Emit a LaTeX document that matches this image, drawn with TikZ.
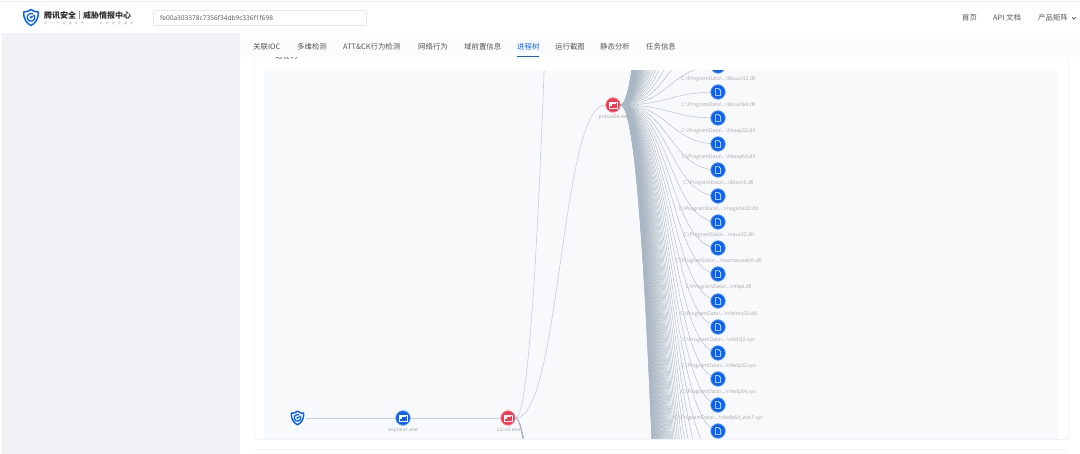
\documentclass[tikz,border=0pt]{standalone}
\usepackage{fontspec}
\setmainfont{Open Sans}
\newfontfamily\cjk{Noto Sans CJK SC}
\newfontfamily\cjksp[LetterSpace=105]{Noto Sans CJK SC}
\definecolor{blueN}{HTML}{0A62F5}
\definecolor{blueH}{HTML}{5A97F8}
\definecolor{redN}{HTML}{F7384F}
\definecolor{redH}{HTML}{F88A9A}
\definecolor{panelC}{HTML}{F8F9FB}
\definecolor{sideC}{HTML}{F0F2F5}
\definecolor{edgeC}{HTML}{C5CFDB}
\definecolor{fanC}{HTML}{A9B6C3}
\definecolor{labC}{HTML}{A8A8A8}
\definecolor{tabC}{HTML}{555555}
\definecolor{titleC}{HTML}{333333}
\definecolor{stripC}{HTML}{FBFCFD}
\definecolor{cardC}{HTML}{F2F3F6}
\definecolor{topC}{HTML}{EEEEEE}
\definecolor{boxC}{HTML}{E6E8EB}
\definecolor{darkC}{HTML}{9AA8B8}
\tikzset{
  lab/.style={font=\fontsize{5.15}{6}\selectfont,text=labC,inner sep=0pt},
  tab/.style={font=\cjk\fontsize{7.4}{9}\selectfont,text=tabC,inner sep=0pt,anchor=west},
  fan/.style={draw=fanC,line width=0.38pt},
  link/.style={draw=edgeC,line width=0.6pt},
  filenode/.style={circle,fill=blueN,draw=blueH,line width=0.7pt,minimum size=14.5pt,inner sep=0pt},
  procblue/.style={circle,fill=blueN,draw=blueH,line width=0.7pt,minimum size=14.5pt,inner sep=0pt},
  procred/.style={circle,fill=redN,draw=redH,line width=0.7pt,minimum size=14.5pt,inner sep=0pt},
  glyph/.style={draw=white,line width=0.6pt,fill=none}
}
\newcommand{\docglyph}[1]{\draw[glyph,line join=round] ([shift={(-2.7,-3.4)}]#1.center) -- ++(3.4,0) -- ++(2,2) -- ++(0,4.8) -- ++(-5.4,0) -- cycle;}
\newcommand{\termglyph}[1]{\draw[glyph,line width=0.55pt] ([shift={(-4.2,-2.8)}]#1.center) rectangle ([shift={(4.2,2.8)}]#1.center);\fill[white] ([shift={(-2.8,-0.6)}]#1.center) rectangle ([shift={(-0.8,1.3)}]#1.center);\draw[white,line width=0.4pt] ([shift={(-2.8,-1.6)}]#1.center) -- ([shift={(2.8,-1.6)}]#1.center);}
\newcommand{\shieldat}[3]{%
 \begin{scope}[shift={(#1,#2)},scale=#3]
 \draw[blueN,line width=1.5pt,line join=round] (-7.3,-5.6) .. controls (-3,-5.8) and (-1.5,-7) .. (0,-8) .. controls (1.5,-7) and (3,-5.8) .. (7.3,-5.6) .. controls (7.6,2) and (4,6) .. (0,8) .. controls (-4,6) and (-7.6,2) .. (-7.3,-5.6) -- cycle;
 \draw[blueN,line width=1.3pt] (1.95,-3.58) arc[start angle=-60,end angle=-375,radius=3.9];
 \fill[blueN] (0,-0.2) circle (1.4);
 \draw[blueN,line width=1pt] (0,-0.2) -- (3.9,-2.4);
 \end{scope}}
\begin{document}
\begin{tikzpicture}[x=1pt,y=-1pt]
\useasboundingbox (0,0) rectangle (1080,454);
\fill[white] (0,0) rectangle (1080,454);
% page
\fill[sideC] (2,33) rectangle (240,454);
\draw[topC,line width=0.5pt] (0,1) -- (1080,1);
% card
\draw[cardC,line width=0.7pt] (254,50) -- (254,439) -- (1068,439) -- (1068,50);
\draw[cardC,line width=0.7pt] (254,449.5) -- (1068,449.5);
\node[tab,text=titleC] (title) at (266,56) {一 进程树};
\fill[stripC] (240,33) rectangle (1080,57);
\fill[panelC] (264,71) rectangle (1057,439);
% tree
\begin{scope}
\clip (264,71) rectangle (1057,439);
\node[procblue] (explorer) at (403,418) {};
\node[procred] (x2) at (508,418) {};
\node[procred] (pobus) at (613,105) {};
\coordinate (root) at (298,418);
\coordinate (upfar) at (613,-1700);
\coordinate (downa) at (613,2200);
\coordinate (downb) at (613,2500);
\coordinate (downc) at (613,2800);
\draw[link] (root) ++(8,0) -- (explorer);
\draw[link] (explorer) -- (x2);
\draw[link] (x2.east) .. controls +(45,0) and ([xshift=-45pt]pobus.west) .. (pobus.west);
\draw[link] (x2.east) .. controls +(45,0) and ([xshift=-45pt]upfar) .. (upfar);
\foreach \e in {downa,downb,downc}
  \draw[darkC,line width=0.45pt] (x2.east) .. controls +(45,0) and ([xshift=-45pt]\e) .. (\e);
\foreach \k in {-70,...,70}{
  \coordinate (far\k) at (718,{105+13+26*\k});
  \draw[fan] (pobus.east) .. controls (669.5,105) and (669.5,{105+13+26*\k}) .. (far\k);
}
\foreach \nm/\yy/\txt in {
  fa/66/libcurl32.dll, fb/92/libcurl64.dll, fc/118/libeay32.dll, fd/144/libeay64.dll,
  fe/170/libssl-3.dll, ff/196/magichk32.dll, fg/222/naca32.dll, fh/248/nacmacwatch.dll,
  fi/274/nfapi.dll, fj/301/nfentry32.dll, fk/327/nftdi32.sys, fl/353/nfwfp32.sys,
  fm/379/nfwfp64.sys, fn/405/nfwfp64\_win7.sys, fo/431/}{
  \node[filenode] (\nm) at (718,\yy) {};
  \docglyph{\nm}
  \node[lab] (\nm t) at (718.5,\yy+12.8) {\ifx\txt\empty\else C:\textbackslash ProgramData\textbackslash ...\textbackslash\txt\fi};
}
\end{scope}
\termglyph{explorer}
\termglyph{x2}
\termglyph{pobus}
\node[lab] (explorert) at (403,430) {explorer.exe};
\node[lab] (x2t) at (508.5,430) {x2cx0.exe};
\node[lab] (pobust) at (614,117) {pobus64.exe};
\shieldat{297.5}{418}{0.85}
% header
\shieldat{31}{17.5}{1}
\node[font=\cjk\bfseries\fontsize{8}{9}\selectfont,text=black!85,inner sep=0pt,anchor=west] (brand) at (44,15) {腾讯安全};
\node[font=\cjk\bfseries\fontsize{8}{9}\selectfont,text=black!80,inner sep=0pt,anchor=west] (brandb) at (83,15) {威胁情报中心};
\draw[black!45,line width=0.4pt] (79.5,11) -- (79.5,19);
\node[font=\cjksp\fontsize{3}{4}\selectfont,text=labC,inner sep=0pt,anchor=west] (slogan) at (44,23.5) {用一个连接世界，一站式安全服务};
\draw[boxC,rounded corners=1.5pt,line width=0.6pt,fill=white] (153.5,10.5) rectangle (366.5,25.5);
\node[font=\fontsize{6.55}{7}\selectfont,text=tabC,inner sep=0pt,anchor=west] (hash) at (160,17.7) {fe00a303378c7356f34db9c336f1f698};
\node[tab] (nav1) at (962,18) {首页};
\node[tab] (nav2) at (993,18) {API 文档};
\node[tab] (nav3) at (1038,18) {产品矩阵};
\coordinate (chev) at (1074,18.2);
\draw[black!70,line width=0.7pt] ([shift={(-1.8,-0.9)}]chev) -- ++(1.8,1.8) -- ++(1.8,-1.8);
% tabs
\node[tab] (t1) at (253,47) {关联IOC};
\node[tab] (t2) at (297,47) {多维检测};
\node[tab] (t3) at (343,47) {ATT\&CK行为检测};
\node[tab] (t4) at (418,47) {网络行为};
\node[tab] (t5) at (464,47) {域前置信息};
\node[tab,text=blueN] (t6) at (517,47) {进程树};
\draw[blueN,line width=0.9pt] (517,56.3) -- (539,56.3);
\node[tab] (t7) at (555,47) {运行截图};
\node[tab] (t8) at (600,47) {静态分析};
\node[tab] (t9) at (646,47) {任务信息};
\end{tikzpicture}
\end{document}
